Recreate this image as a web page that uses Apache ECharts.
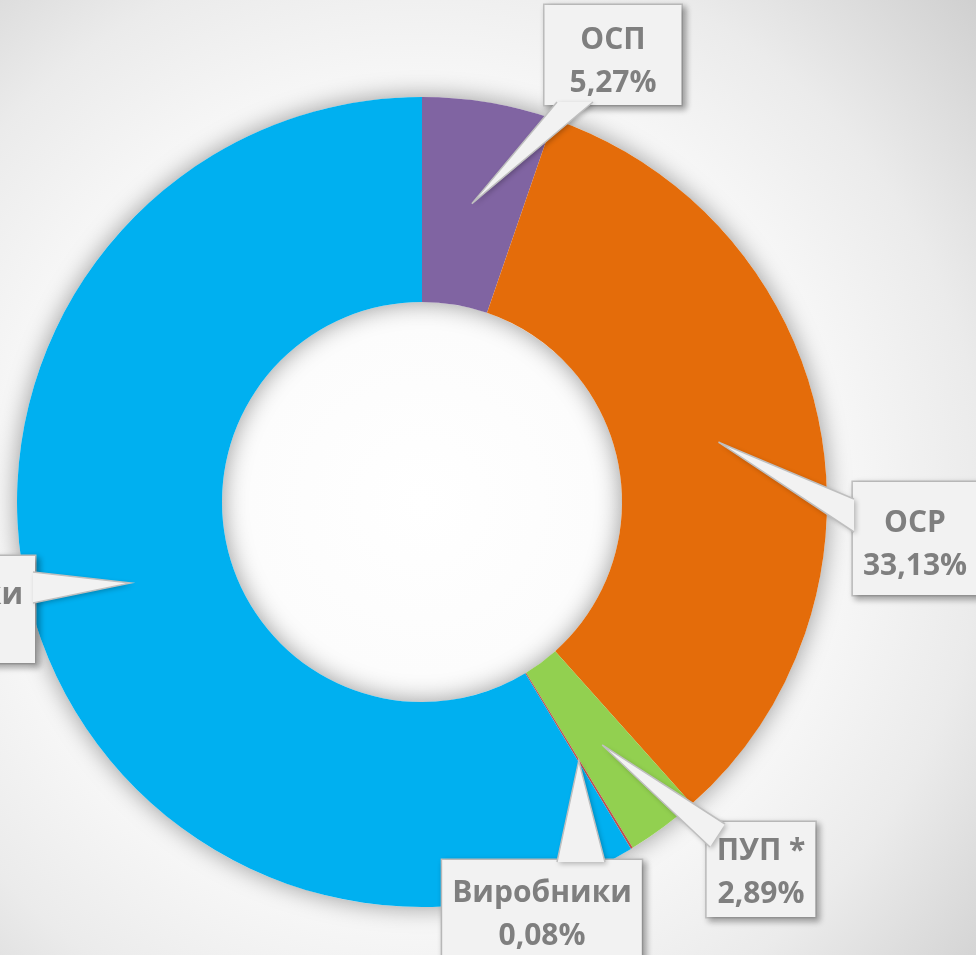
<!DOCTYPE html>
<html lang="uk">
<head>
    <meta charset="UTF-8">
    <title>Частки учасників</title>
    <script src="https://cdn.jsdelivr.net/npm/echarts@6/dist/echarts.min.js"></script>
    <style>
        html, body {
            margin: 0;
            padding: 0;
        }
        #chart {
            width: 976px;
            height: 955px;
        }
    </style>
</head>
<body>
<div id="chart"></div>
<script>
    var categories = ['ОСП', 'ОСР', 'ПУП *', 'Виробники', 'Постачальники'];
    var shares = [5.27, 33.13, 2.89, 0.08, 58.63];
    var colors = ['#8064A2', '#E46C0A', '#92D050', '#C0504D', '#00B0F0'];

    var FONT = '"Open Sans", sans-serif';
    var FONT_SIZE = 30;

    // callout boxes: centre x, top y, padding and the two base points of the pointer
    var boxes = [
        {x: 613, top: 5, width: 113, padding: [14, 12, 0, 12], base: [[557, 102], [593, 102]]},
        {x: 915, top: 482, padding: [20, 10, 7, 10], base: [[854, 499], [854, 532]]},
        {x: 761, top: 822, padding: [8, 10, 1, 10], base: [[725, 824], [710, 847]]},
        {x: 542, top: 860, padding: [12, 10, 0, 10], base: [[557, 862], [605, 862]]},
        {right: 35, top: 556, padding: [18, 12, 3, 12], base: [[33, 572], [33, 603]]}
    ];

    function fmt(v) {
        return v.toFixed(2).replace('.', ',') + '%';
    }

    function textWidth(str) {
        var c = document.createElement('canvas').getContext('2d');
        c.font = 'bold ' + FONT_SIZE + 'px ' + FONT;
        return c.measureText(str).width;
    }

    var chart = echarts.init(document.getElementById('chart'));

    var pieData = categories.map(function (name, i) {
        var b = boxes[i];
        var lbl = {padding: b.padding};
        if (b.width) lbl.width = b.width;
        return {name: name, value: shares[i], itemStyle: {color: colors[i]}, label: lbl};
    });

    var total = shares.reduce(function (a, b) { return a + b; }, 0);

    var option = {
        backgroundColor: {
            type: 'radial', x: 422, y: 502, r: 780, global: true,
            colorStops: [
                {offset: 0, color: '#ffffff'},
                {offset: 0.52, color: '#f8f8f8'},
                {offset: 0.72, color: '#ebebeb'},
                {offset: 1, color: '#cbcbcb'}
            ]
        },
        animation: false,
        series: [{
            // soft shadow under the ring
            type: 'pie',
            silent: true,
            center: [422, 502],
            radius: [200, 405],
            label: {show: false},
            labelLine: {show: false},
            itemStyle: {
                color: '#ffffff',
                shadowBlur: 24,
                shadowColor: 'rgba(0,0,0,0.4)'
            },
            data: [{name: 'ring', value: total}]
        }, {
            type: 'pie',
            center: [422, 502],
            radius: [200, 405],
            startAngle: 90,
            clockwise: true,
            avoidLabelOverlap: false,
            itemStyle: {borderWidth: 0},
            label: {
                show: true,
                position: 'outside',
                formatter: function (p) {
                    return p.name + '\n' + fmt(p.value);
                },
                fontFamily: FONT,
                fontWeight: 'bold',
                fontSize: FONT_SIZE,
                lineHeight: 43,
                color: '#7f7f7f',
                align: 'center',
                backgroundColor: '#f2f2f2',
                borderColor: '#bfbfbf',
                borderWidth: 1.5,
                shadowBlur: 6,
                shadowOffsetX: 3,
                shadowOffsetY: 3,
                shadowColor: 'rgba(0,0,0,0.3)'
            },
            labelLine: {show: false},
            labelLayout: function (params) {
                var b = boxes[params.dataIndex];
                var x = b.x;
                if (b.right !== undefined) {
                    var w = Math.max(textWidth(categories[params.dataIndex]),
                        textWidth(fmt(shares[params.dataIndex])));
                    x = b.right - b.padding[1] - w / 2;
                }
                return {x: x, y: b.top, align: 'center', verticalAlign: 'top'};
            },
            emphasis: {disabled: true},
            data: pieData
        }]
    };
    chart.setOption(option);

    // pointers from each box to the middle of its slice
    var data = chart.getModel().getSeriesByIndex(1).getData();
    var graphics = [];
    categories.forEach(function (name, i) {
        var lay = data.getItemLayout(i);
        var mid = (lay.startAngle + lay.endAngle) / 2;
        var rm = (lay.r + lay.r0) / 2;
        var tip = [lay.cx + rm * Math.cos(mid), lay.cy + rm * Math.sin(mid)];
        var b0 = boxes[i].base[0], b1 = boxes[i].base[1];
        graphics.push({
            type: 'polygon', z: 100, silent: true,
            shape: {points: [b0, tip, b1]},
            style: {
                fill: '#f2f2f2',
                shadowBlur: 5,
                shadowOffsetX: 2,
                shadowOffsetY: 2,
                shadowColor: 'rgba(0,0,0,0.25)'
            }
        });
        graphics.push({
            type: 'polyline', z: 101, silent: true,
            shape: {points: [b0, tip, b1]},
            style: {stroke: '#bfbfbf', lineWidth: 1.5, fill: null}
        });
    });
    chart.setOption({graphic: graphics});
</script>
</body>
</html>
